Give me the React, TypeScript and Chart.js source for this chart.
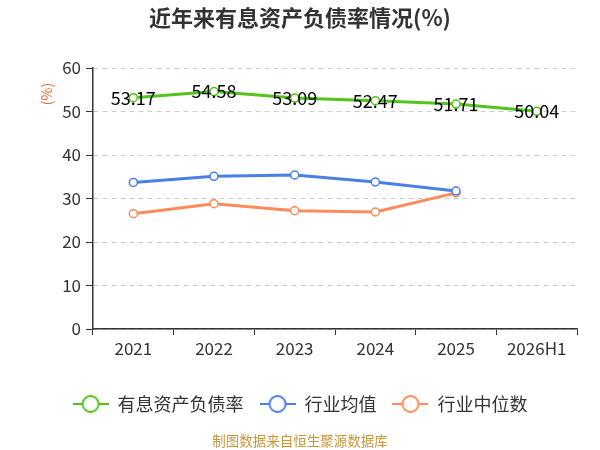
import React, { useEffect, useRef } from "react";
import Chart from "chart.js/auto";

const years = ["2021", "2022", "2023", "2024", "2025", "2026H1"];
const debtRatio = [53.17, 54.58, 53.09, 52.47, 51.71, 50.04];
const industryAvg = [33.7, 35.1, 35.4, 33.8, 31.7, null];
const industryMedian = [26.5, 28.8, 27.2, 26.9, 31.3, null];
const seriesNames = ["有息资产负债率", "行业均值", "行业中位数"];
const yMin = 0;
const yMax = 60;
const yStep = 10;

const FONT = "'Noto Sans CJK SC', 'Noto Sans', sans-serif";
const GREEN = "#52c41a";
const BLUE = "#4a7fe3";
const ORANGE = "#ff8a5b";

// line + hollow circle, like the legend markers in the picture
function legendIcon(color: string) {
  const c = document.createElement("canvas");
  c.width = 36;
  c.height = 20;
  const ctx = c.getContext("2d")!;
  ctx.strokeStyle = color;
  ctx.lineWidth = 2;
  ctx.beginPath();
  ctx.moveTo(0, 10);
  ctx.lineTo(36, 10);
  ctx.stroke();
  ctx.beginPath();
  ctx.arc(18, 10, 8, 0, Math.PI * 2);
  ctx.fillStyle = "#fff";
  ctx.fill();
  ctx.stroke();
  return c;
}

const extras = {
  id: "extras",
  afterDatasetsDraw(chart: any) {
    const ctx = chart.ctx;
    const meta = chart.getDatasetMeta(0);
    ctx.save();
    ctx.font = `18px ${FONT}`;
    ctx.fillStyle = "#000";
    ctx.textAlign = "center";
    ctx.textBaseline = "middle";
    meta.data.forEach((pt: any, i: number) => {
      ctx.fillText(debtRatio[i].toFixed(2), pt.x, pt.y);
    });
    ctx.restore();
  },
  afterDraw(chart: any) {
    const ctx = chart.ctx;
    const area = chart.chartArea;

    ctx.save();
    ctx.font = `bold 22px ${FONT}`;
    ctx.fillStyle = "#333";
    ctx.textAlign = "center";
    ctx.textBaseline = "middle";
    ctx.fillText("近年来有息资产负债率情况(%)", chart.width / 2, 18);
    ctx.restore();

    // unit label on the y axis
    ctx.save();
    ctx.translate(area.left - 46, area.top + 26);
    ctx.rotate(-Math.PI / 2);
    ctx.font = `14px ${FONT}`;
    ctx.fillStyle = "#f0652a";
    ctx.textAlign = "center";
    ctx.textBaseline = "middle";
    ctx.fillText("(%)", 0, 0);
    ctx.restore();

    ctx.save();
    ctx.font = `13.5px ${FONT}`;
    ctx.fillStyle = "#c9973a";
    ctx.textAlign = "center";
    ctx.textBaseline = "middle";
    ctx.fillText("制图数据来自恒生聚源数据库", chart.width / 2, chart.height - 9);
    ctx.restore();
  },
};

const App: React.FC = () => {
  const canvasRef = useRef<HTMLCanvasElement | null>(null);
  const chartRef = useRef<Chart | null>(null);

  useEffect(() => {
    if (!canvasRef.current) return;
    if (chartRef.current) chartRef.current.destroy();

    const colors = [GREEN, BLUE, ORANGE];
    const icons = colors.map(legendIcon);

    const line = (label: string, data: (number | null)[], color: string) => ({
      label,
      data,
      borderColor: color,
      backgroundColor: "#fff",
      borderWidth: 3,
      pointRadius: 4,
      pointBorderWidth: 1.5,
      pointBackgroundColor: "#fff",
      pointBorderColor: color,
      tension: 0,
    });

    chartRef.current = new Chart(canvasRef.current, {
      type: "line",
      data: {
        labels: years,
        datasets: [
          line(seriesNames[0], debtRatio, GREEN),
          line(seriesNames[1], industryAvg, BLUE),
          line(seriesNames[2], industryMedian, ORANGE),
        ],
      },
      options: {
        responsive: false,
        animation: false,
        layout: { padding: { left: 23, right: 23, top: 68, bottom: 27 } },
        plugins: {
          title: { display: false },
          legend: {
            position: "bottom",
            labels: {
              usePointStyle: true,
              pointStyleWidth: 36,
              padding: 16,
              color: "#333",
              font: { family: FONT, size: 18 },
              generateLabels: (chart: any) =>
                chart.data.datasets.map((ds: any, i: number) => ({
                  text: ds.label,
                  pointStyle: icons[i],
                  fillStyle: "#fff",
                  strokeStyle: colors[i],
                  lineWidth: 0,
                  hidden: false,
                  datasetIndex: i,
                  fontColor: "#333",
                })),
            },
          },
          tooltip: { enabled: false },
        },
        scales: {
          x: {
            offset: true,
            afterFit: (scale: any) => {
              scale.height = 50;
            },
            grid: {
              offset: true,
              drawOnChartArea: false,
              tickLength: 6,
              tickColor: "#333",
            },
            border: { color: "#333", width: 1.5 },
            ticks: {
              color: "#333",
              padding: 3,
              font: { family: FONT, size: 17 },
            },
          },
          y: {
            min: yMin,
            max: yMax,
            afterFit: (scale: any) => {
              scale.width = 70;
            },
            grid: {
              color: "#cccccc",
              tickColor: "#333",
              tickLength: 7,
            },
            border: { color: "#333", width: 1.5, dash: [5, 4] },
            ticks: {
              stepSize: yStep,
              color: "#333",
              padding: 5,
              font: { family: FONT, size: 17 },
            },
          },
        },
      },
      plugins: [extras],
    } as any);

    return () => {
      if (chartRef.current) {
        chartRef.current.destroy();
        chartRef.current = null;
      }
    };
  }, []);

  return (
    <div style={{ position: "absolute", left: 0, top: 0, width: 600, height: 450, background: "#fff" }}>
      <canvas ref={canvasRef} width="600" height="450"></canvas>
    </div>
  );
};

export default App;
